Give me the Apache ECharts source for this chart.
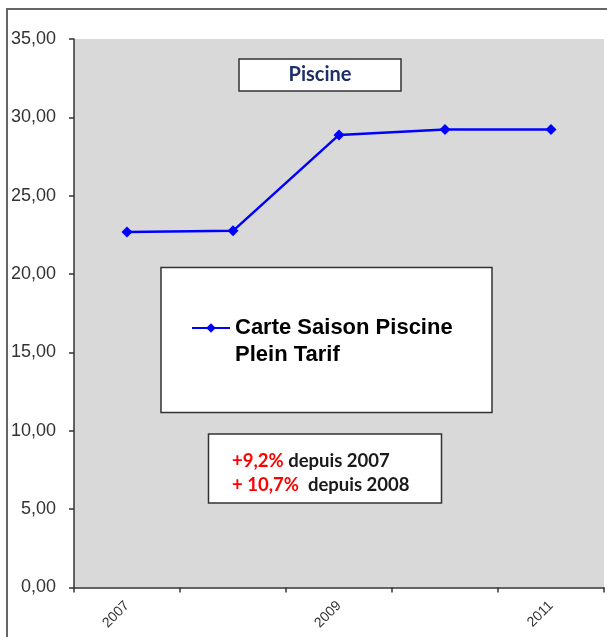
<!DOCTYPE html>
<html>
<head>
<meta charset="utf-8">
<script src="https://cdn.jsdelivr.net/npm/echarts@6/dist/echarts.min.js"></script>
<style>
html,body{margin:0;padding:0;background:#fff;}
#c{width:607px;height:637px;}
</style>
</head>
<body>
<div id="c"></div>
<script>
const categories = ['2007', '2008', '2009', '2010', '2011'];
const seriesName = 'Carte Saison Piscine\nPlein Tarif';
const values = [22.68, 22.76, 28.88, 29.23, 29.22];
const yMin = 0, yMax = 35, yStep = 5;
const titleText = 'Piscine';
const noteLines = [
  ['+9,2%', ' depuis 2007'],
  ['+ 10,7%', '  depuis 2008']
];

const chart = echarts.init(document.getElementById('c'), null, {renderer: 'canvas'});
const option = {
  animation: false,
  backgroundColor: '#ffffff',
  grid: {
    left: 74, right: 3, top: 39, bottom: 49.5,
    show: true, backgroundColor: '#d9d9d9', borderWidth: 0
  },
  xAxis: {
    type: 'category',
    data: categories,
    boundaryGap: true,
    axisLine: {show: true, lineStyle: {color: '#333', width: 1.5}},
    axisTick: {show: true, interval: 0, length: 5, lineStyle: {color: '#333', width: 1.5}},
    axisLabel: {
      interval: 1, rotate: 45, margin: 16,
      fontSize: 14, fontFamily: 'Liberation Sans', color: '#333'
    },
    splitLine: {show: false}
  },
  yAxis: {
    type: 'value',
    min: yMin, max: yMax, interval: yStep,
    axisLine: {show: true, lineStyle: {color: '#333', width: 1.5}},
    axisTick: {show: true, length: 5, lineStyle: {color: '#333', width: 1.5}},
    axisLabel: {
      margin: 18, fontSize: 18, fontFamily: 'Liberation Sans', color: '#333',
      formatter: v => v.toFixed(2).replace('.', ',')
    },
    splitLine: {show: false}
  },
  legend: {
    show: true,
    left: 191, top: 287.5,
    padding: 0,
    selectedMode: false,
    itemWidth: 38, itemHeight: 12,
    formatter: name => '\u00a0\n' + name,
    textStyle: {
      fontSize: 22, fontWeight: 'bold', fontFamily: 'Liberation Sans',
      color: '#000', lineHeight: 27
    },
    data: [seriesName]
  },
  series: [{
    name: seriesName,
    type: 'line',
    data: values,
    color: '#0000ff',
    symbol: 'diamond',
    symbolSize: 11,
    lineStyle: {width: 2.5, color: '#0000ff'},
    itemStyle: {color: '#0000ff'},
    z: 5
  }],
  graphic: [
    {type: 'rect', shape: {x: 7, y: 9, width: 620, height: 640},
     style: {fill: 'none', stroke: '#666', lineWidth: 2}, z: 100, silent: true},
    {type: 'rect', shape: {x: 239, y: 59, width: 162, height: 32},
     style: {fill: '#fff', stroke: '#333', lineWidth: 1.5}, z: 10},
    {type: 'text', x: 320, y: 75, z: 11,
     style: {text: titleText, fill: '#1f2f6b', font: 'bold 20px Lato', align: 'center', verticalAlign: 'middle'}},
    {type: 'rect', shape: {x: 161, y: 267.5, width: 331, height: 145},
     style: {fill: '#fff', stroke: '#333', lineWidth: 1.5}, z: 1},
    {type: 'rect', shape: {x: 208.5, y: 434, width: 233, height: 69},
     style: {fill: '#fff', stroke: '#333', lineWidth: 1.5}, z: 10},
    {type: 'text', x: 232, y: 461, z: 11,
     style: {
       text: '{r|' + noteLines[0][0] + '}{k|' + noteLines[0][1] + '}',
       verticalAlign: 'middle',
       rich: {
         r: {fill: '#ff0000', font: 'bold 18.5px Lato'},
         k: {fill: '#1a1a1a', font: 'bold 18.5px Lato'}
       }
     }},
    {type: 'text', x: 232, y: 485, z: 11,
     style: {
       text: '{r|' + noteLines[1][0] + '}{k|' + noteLines[1][1] + '}',
       verticalAlign: 'middle',
       rich: {
         r: {fill: '#ff0000', font: 'bold 18.5px Lato'},
         k: {fill: '#1a1a1a', font: 'bold 18.5px Lato'}
       }
     }}
  ]
};
chart.setOption(option);
</script>
</body>
</html>
